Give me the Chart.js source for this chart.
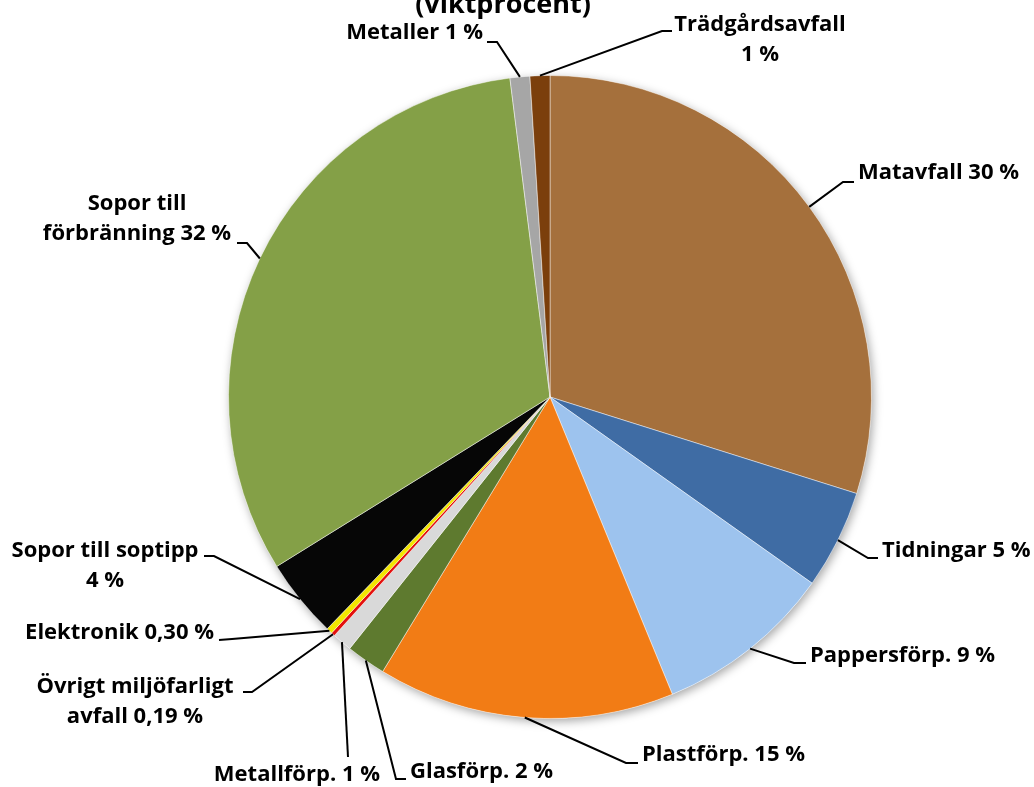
<!DOCTYPE html>
<html>
<head>
<meta charset="utf-8">
<script src="https://cdn.jsdelivr.net/npm/chart.js@4.4.1/dist/chart.umd.min.js"></script>
<style>
  html, body { margin: 0; padding: 0; background: #fff; }
</style>
</head>
<body>
<canvas id="wasteChart" width="1034" height="787"></canvas>
<script>
// Waste composition (weight percent)
const categories = ['Matavfall', 'Tidningar', 'Pappersförp.', 'Plastförp.', 'Glasförp.', 'Metallförp.',
    'Övrigt miljöfarligt avfall', 'Elektronik', 'Sopor till soptipp', 'Sopor till förbränning', 'Metaller', 'Trädgårdsavfall'];
const shares = [30, 5, 9, 15, 2, 1, 0.19, 0.30, 4, 32, 1, 1];
const shareLabels = ['30 %', '5 %', '9 %', '15 %', '2 %', '1 %', '0,19 %', '0,30 %', '4 %', '32 %', '1 %', '1 %'];
// how each label is broken into lines
const labelLines = [
    ['Matavfall 30 %'],
    ['Tidningar 5 %'],
    ['Pappersförp. 9 %'],
    ['Plastförp. 15 %'],
    ['Glasförp. 2 %'],
    ['Metallförp. 1 %'],
    ['Övrigt miljöfarligt', 'avfall 0,19 %'],
    ['Elektronik 0,30 %'],
    ['Sopor till soptipp', '4 %'],
    ['Sopor till', 'förbränning 32 %'],
    ['Metaller 1 %'],
    ['Trädgårdsavfall', '1 %']
];
const sliceColors = ['#A5703C', '#3F6CA4', '#9DC3EE', '#F27C15', '#5E7A2F', '#D9D9D9',
    '#E3100E', '#F2E600', '#060606', '#84A047', '#A6A6A6', '#7B3F0C'];

// label placement: text position, alignment, leader line points (after the arc anchor)
const labelLayout = [
    { x: 858, y: 173, align: 'left', path: [[843, 182], [854, 182]] },
    { x: 882, y: 551, align: 'left', path: [[868, 558], [878, 558]] },
    { x: 810, y: 656, align: 'left', path: [[794, 663], [806, 663]] },
    { x: 642, y: 755, align: 'left', path: [[626, 763], [638, 763]] },
    { x: 410, y: 772, align: 'left', path: [[396, 779], [406, 779]] },
    { x: 380, y: 775, align: 'right', path: [[348, 757]] },
    { x: 135, y: 687, align: 'center', path: [[252, 692], [243, 692]] },
    { x: 214, y: 633, align: 'right', path: [[232, 639], [219, 640]] },
    { x: 105, y: 551, align: 'center', path: [[214, 556], [204, 556]] },
    { x: 137, y: 204, align: 'center', path: [[247, 243], [237, 243]] },
    { x: 483, y: 33, align: 'right', path: [[497, 42], [487, 42]] },
    { x: 760, y: 25, align: 'center', path: [[662, 31], [672, 31]] }
];

const labelFont = 'bold 22px "Open Sans", Lato, sans-serif';

// soft shadow under the whole pie
const pieShadow = {
    id: 'pieShadow',
    beforeDatasetsDraw(chart) {
        const arc = chart.getDatasetMeta(0).data[0];
        if (!arc) return;
        const ctx = chart.ctx;
        ctx.save();
        ctx.shadowColor = 'rgba(0,0,0,0.35)';
        ctx.shadowBlur = 10;
        ctx.shadowOffsetX = 2;
        ctx.shadowOffsetY = 3;
        ctx.beginPath();
        ctx.arc(arc.x, arc.y, arc.outerRadius, 0, Math.PI * 2);
        ctx.fillStyle = '#ffffff';
        ctx.fill();
        ctx.restore();
    }
};

// labels with leader lines
const leaderLabels = {
    id: 'leaderLabels',
    afterDatasetsDraw(chart) {
        const ctx = chart.ctx;
        const meta = chart.getDatasetMeta(0);
        ctx.save();
        meta.data.forEach((arc, i) => {
            const mid = (arc.startAngle + arc.endAngle) / 2;
            const ax = arc.x + Math.cos(mid) * arc.outerRadius;
            const ay = arc.y + Math.sin(mid) * arc.outerRadius;
            const lay = labelLayout[i];
            ctx.beginPath();
            ctx.moveTo(ax, ay);
            lay.path.forEach(p => ctx.lineTo(p[0], p[1]));
            ctx.strokeStyle = '#000';
            ctx.lineWidth = 2;
            ctx.stroke();

            ctx.font = labelFont;
            ctx.fillStyle = '#000';
            ctx.textAlign = lay.align;
            ctx.textBaseline = 'middle';
            labelLines[i].forEach((line, k) => {
                ctx.fillText(line, lay.x, lay.y + k * 30);
            });
        });

        // title, cut off at the top edge
        ctx.font = 'bold 27px "Open Sans", Lato, sans-serif';
        ctx.textAlign = 'center';
        ctx.textBaseline = 'alphabetic';
        ctx.fillText('(viktprocent)', 503, 13);
        ctx.restore();
    }
};

const ctx = document.getElementById('wasteChart').getContext('2d');
const wasteChart = new Chart(ctx, {
    type: 'pie',
    data: {
        labels: categories.map((c, i) => c + ' ' + shareLabels[i]),
        datasets: [{
            data: shares,
            backgroundColor: sliceColors,
            borderColor: 'rgba(255,255,255,0.45)',
            borderWidth: 1
        }]
    },
    options: {
        responsive: false,
        animation: false,
        layout: {
            padding: { left: 228, right: 162, top: 75, bottom: 68 }
        },
        plugins: {
            legend: { display: false },
            tooltip: { enabled: false },
            title: { display: false }
        }
    },
    plugins: [pieShadow, leaderLabels]
});
</script>
</body>
</html>
